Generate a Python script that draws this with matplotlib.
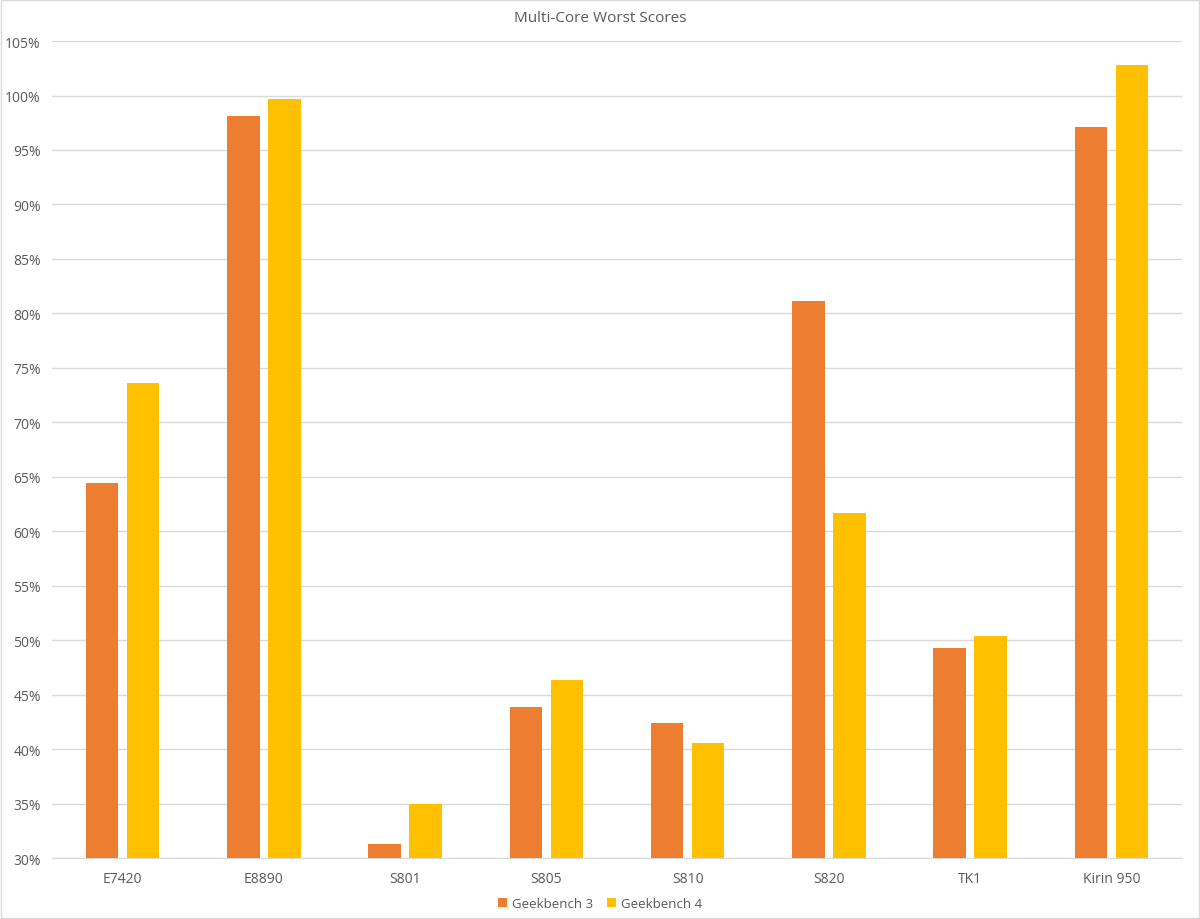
import matplotlib.pyplot as plt
import numpy as np
from matplotlib.ticker import FuncFormatter

chips = ["E7420", "E8890", "S801", "S805", "S810", "S820", "TK1", "Kirin 950"]
gb3 = [64.4, 98.1, 31.3, 43.9, 42.4, 81.1, 49.3, 97.1]
gb4 = [73.6, 99.7, 35.0, 46.3, 40.6, 61.7, 50.4, 102.8]

text_col = "#595959"
plt.rcParams["font.family"] = ["Open Sans", "DejaVu Sans"]

fig = plt.figure(figsize=(12, 9.2), dpi=100)
ax = fig.add_axes([0.0433, 0.0663, 0.9417, 0.888])

x = np.arange(len(chips))
w = 0.23
ax.bar(x - 0.145, gb3, w, bottom=0, color="#ED7D31", label="Geekbench 3", zorder=3)
ax.bar(x + 0.145, gb4, w, bottom=0, color="#FFC000", label="Geekbench 4", zorder=3)

ax.set_ylim(30, 105)
ax.set_xlim(-0.5, len(chips) - 0.5)
ax.set_yticks(np.arange(30, 106, 5))
ax.yaxis.set_major_formatter(FuncFormatter(lambda v, p: f"{v:.0f}%"))
ax.set_xticks(x)
ax.set_xticklabels(chips)
ax.tick_params(axis="both", length=0, colors=text_col, labelsize=10)
ax.tick_params(axis="x", pad=9)
ax.tick_params(axis="y", pad=8)
ax.grid(axis="y", color="#D9D9D9", linewidth=1, zorder=0)
for s in ["top", "right", "left"]:
    ax.spines[s].set_visible(False)
ax.spines["bottom"].set_color("#D9D9D9")

fig.suptitle("Multi-Core Worst Scores", y=0.988, fontsize=11, color=text_col)
fig.legend(loc="lower center", bbox_to_anchor=(0.5, -0.003), ncol=2, frameon=False,
           fontsize=9.5, labelcolor=text_col, handlelength=0.7, handleheight=0.7,
           columnspacing=1.0, handletextpad=0.4)

fig.patches.append(plt.Rectangle((0.001, 0.001), 0.998, 0.998, transform=fig.transFigure,
                                 fill=False, edgecolor="#D9D9D9", linewidth=1))
fig.savefig("out.png")
